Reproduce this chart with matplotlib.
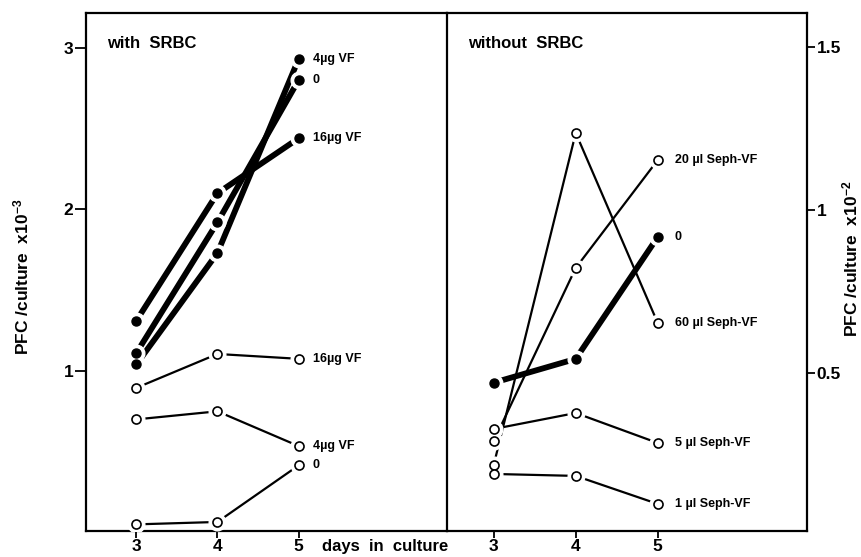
import matplotlib
matplotlib.use("Agg")
import matplotlib.pyplot as plt

plt.rcParams['font.family'] = ['Liberation Sans', 'DejaVu Sans']
plt.rcParams['font.weight'] = 'bold'
plt.rcParams['mathtext.fontset'] = 'custom'
plt.rcParams['mathtext.rm'] = 'Liberation Sans:bold'
plt.rcParams['mathtext.it'] = 'Liberation Sans:bold'
plt.rcParams['mathtext.bf'] = 'Liberation Sans:bold'

# days in culture
days = [3, 4, 5]

# with SRBC (PFC/culture x10^-3), filled = thick lines
with_filled_labels = ['4\u00b5g VF', '0', '16\u00b5g VF']
with_filled = [[1.04, 1.73, 2.93],
               [1.11, 1.92, 2.80],
               [1.31, 2.10, 2.44]]
with_open_labels = ['16\u00b5g VF', '4\u00b5g VF', '0']
with_open = [[0.895, 1.105, 1.075],
             [0.70, 0.75, 0.535],
             [0.05, 0.065, 0.415]]

# without SRBC (PFC/culture x10^-2)
without_filled_labels = ['0']
without_filled = [[0.47, 0.543, 0.917]]
without_open_labels = ['20 \u00b5l Seph-VF', '60 \u00b5l Seph-VF',
                       '5 \u00b5l Seph-VF', '1 \u00b5l Seph-VF']
without_open = [[0.291, 0.822, 1.153],
                [0.218, 1.236, 0.653],
                [0.328, 0.377, 0.285],
                [0.190, 0.184, 0.098]]

fig = plt.figure(figsize=(8.62, 5.57), dpi=100)
ax1 = fig.add_axes([86/862, 26/557, 361/862, 518/557])
ax2 = fig.add_axes([447/862, 26/557, 360/862, 518/557])
ax2.patch.set_visible(False)


def draw_series(ax, ys, filled, label, dx):
    lw = 4.2 if filled else 1.6
    ax.plot(days, ys, color='black', lw=lw, solid_capstyle='butt', zorder=2)
    # white halo so the lines stop short of the markers
    ax.plot(days, ys, ls='none', marker='o', ms=12, mfc='white', mec='white', zorder=3)
    if filled:
        ax.plot(days, ys, ls='none', marker='o', ms=6.5, mfc='black', mec='black', zorder=4)
    else:
        ax.plot(days, ys, ls='none', marker='o', ms=6.5, mfc='white', mec='black',
                mew=1.2, zorder=4)
    ax.annotate(label, (days[-1], ys[-1]), xytext=(dx, 0), textcoords='offset pixels',
                ha='left', va='center', fontsize=9, fontweight='bold')


for lab, ys in zip(with_filled_labels, with_filled):
    draw_series(ax1, ys, True, lab, 14)
for lab, ys in zip(with_open_labels, with_open):
    draw_series(ax1, ys, False, lab, 14)
for lab, ys in zip(without_filled_labels, without_filled):
    draw_series(ax2, ys, True, lab, 17)
for lab, ys in zip(without_open_labels, without_open):
    draw_series(ax2, ys, False, lab, 17)

ax1.set_xlim(2.38, 6.83)
ax1.set_ylim(0.009, 3.216)
ax2.set_xlim(2.43, 6.82)
ax2.set_ylim(0.015, 1.604)

for ax in (ax1, ax2):
    ax.set_xticks(days)
    ax.set_xticklabels([str(d) for d in days], fontsize=12.5, fontweight='bold')
    ax.tick_params(axis='x', direction='out', length=5, width=1.3, pad=1)
    for s in ax.spines.values():
        s.set_linewidth(1.6)

ax1.set_yticks([1, 2, 3])
ax1.set_yticklabels(['1', '2', '3'], fontsize=12.5, fontweight='bold')
ax1.tick_params(axis='y', direction='out', length=8, width=1.3, pad=1)

ax2.spines['left'].set_visible(False)
ax2.yaxis.tick_right()
ax2.set_yticks([0.5, 1, 1.5])
ax2.set_yticklabels(['0.5', '1', '1.5'], fontsize=12.5, fontweight='bold')
ax2.tick_params(axis='y', direction='out', length=6, width=1.3, pad=1)

ax1.text(0.058, 0.942, 'with  SRBC', transform=ax1.transAxes, fontsize=12,
         fontweight='bold', ha='left', va='center')
ax2.text(0.058, 0.942, 'without  SRBC', transform=ax2.transAxes, fontsize=12,
         fontweight='bold', ha='left', va='center')

fig.text(322/862, 3/557, 'days  in  culture', fontsize=12, fontweight='bold',
         ha='left', va='bottom')

fig.text(21/862, 1 - 277/557, 'PFC /culture  x10$^{-3}$', rotation=90, fontsize=12.5,
         fontweight='bold', ha='center', va='center')
fig.text(850/862, 1 - 259/557, 'PFC /culture  x10$^{-2}$', rotation=90, fontsize=12.5,
         fontweight='bold', ha='center', va='center')

fig.savefig('out.png', dpi=100)
